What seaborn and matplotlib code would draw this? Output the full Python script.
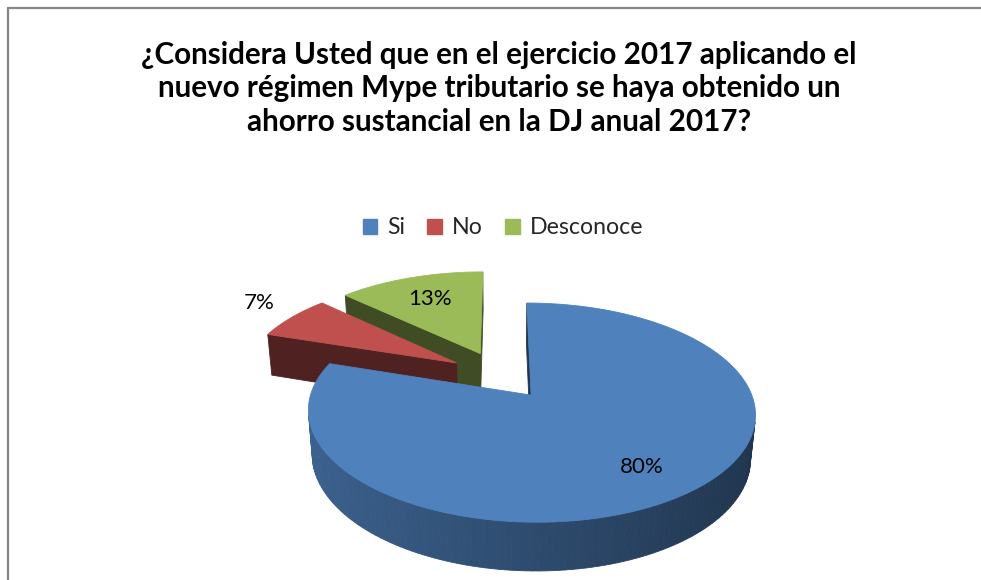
import numpy as np
import matplotlib
matplotlib.use("Agg")
import matplotlib.pyplot as plt
import seaborn as sns
from matplotlib.patches import Polygon, Patch
from matplotlib.lines import Line2D

# ---- data ----
categories = ["Si", "No", "Desconoce"]
values = [80, 7, 13]
pct_labels = ["80%", "7%", "13%"]
title = ("¿Considera Usted que en el ejercicio 2017 aplicando el\n"
         "nuevo régimen Mype tributario se haya obtenido un\n"
         "ahorro sustancial en la DJ anual 2017?")

# ---- style ----
sns.set_theme(style="white")
plt.rcParams["font.family"] = ["Lato", "DejaVu Sans"]
colors = ["#4F81BD", "#C0504D", "#9BBB59"]

W, H = 981, 580
fig = plt.figure(figsize=(W / 100, H / 100), dpi=100)
ax = fig.add_axes([0, 0, 1, 1])
ax.set_xlim(0, W)
ax.set_ylim(H, 0)
ax.axis("off")

# 3D projection parameters (pixel space)
S = 214.0
phi = np.radians(28)
sphi, cphi = np.sin(phi), np.cos(phi)
Dcam = 5.7
U0, V0 = 500.0, 375.0
explode = 0.24
depth = 0.23
cam = np.array([0.0, -Dcam * cphi, Dcam * sphi])


def proj(X, Y, Z):
    X = np.asarray(X, float); Y = np.asarray(Y, float); Z = np.asarray(Z, float)
    zc = Dcam + Y * cphi - Z * sphi
    yc = Y * sphi + Z * cphi
    return U0 + S * X * Dcam / zc, V0 - S * yc * Dcam / zc


def shade(c, f):
    rgb = np.array(matplotlib.colors.to_rgb(c))
    return tuple(np.clip(rgb * f, 0, 1))


def face(pts3, col, z=1):
    pts3 = np.array(pts3)
    u, v = proj(pts3[:, 0], pts3[:, 1], pts3[:, 2])
    ax.add_patch(Polygon(np.column_stack([u, v]), closed=True, facecolor=col,
                         edgecolor=col, lw=0.6, zorder=z))


def visible(p, n):
    return np.dot(cam - p, n) > 0


total = float(sum(values))
cum = np.cumsum([0] + values)
slices = []
for i, val in enumerate(values):
    t1 = 90 - cum[i] / total * 360
    t2 = 90 - cum[i + 1] / total * 360
    mid = np.radians((t1 + t2) / 2)
    A = explode * np.array([np.cos(mid), np.sin(mid)])
    slices.append((i, np.radians(t2), np.radians(t1), mid, A))

# draw back-to-front
slices.sort(key=lambda s: -s[4][1])
label_r = {0: 0.75, 1: 1.22, 2: 0.7}
for (i, t2, t1, mid, A) in slices:
    base = colors[i]
    th = np.linspace(t2, t1, max(8, int(np.degrees(t1 - t2) / 1.5)))
    P = np.column_stack([A[0] + np.cos(th), A[1] + np.sin(th)])
    # radial faces
    for t, nrm in ((t1, np.array([-np.sin(t1), np.cos(t1), 0])),
                   (t2, np.array([np.sin(t2), -np.cos(t2), 0]))):
        E = A + np.array([np.cos(t), np.sin(t)])
        cen = np.array([(A[0] + E[0]) / 2, (A[1] + E[1]) / 2, -depth / 2])
        if visible(cen, nrm):
            face([[A[0], A[1], 0], [E[0], E[1], 0], [E[0], E[1], -depth],
                  [A[0], A[1], -depth]], shade(base, 0.41))
    # outer wall
    for k in range(len(th) - 1):
        tm = (th[k] + th[k + 1]) / 2
        pm = np.array([A[0] + np.cos(tm), A[1] + np.sin(tm), -depth / 2])
        if visible(pm, np.array([np.cos(tm), np.sin(tm), 0])):
            f = 0.58 - 0.18 * np.cos(tm)
            face([[P[k, 0], P[k, 1], 0], [P[k + 1, 0], P[k + 1, 1], 0],
                  [P[k + 1, 0], P[k + 1, 1], -depth], [P[k, 0], P[k, 1], -depth]],
                 shade(base, f))
    # top
    top = [[A[0], A[1], 0]] + [[p[0], p[1], 0] for p in P]
    face(top, base)

# percentage labels
for (i, t2, t1, mid, A) in slices:
    r = label_r[i]
    lx, ly = proj(A[0] + r * np.cos(mid), A[1] + r * np.sin(mid), 0)
    if i == 1:
        ly -= 5
    ax.text(lx, ly, pct_labels[i], ha="center", va="center", fontsize=16,
            color="black", zorder=10)

# title
ax.text(499, 88.5, title, ha="center", va="center", fontsize=21.3,
        fontweight="bold", linespacing=1.22, color="black")

# legend
handles = [Patch(facecolor=c, edgecolor=c) for c in colors]
fig.legend(handles, categories, loc="center", bbox_to_anchor=(503 / W, 1 - 228 / H),
           ncol=3, frameon=False, fontsize=16.7, handlelength=0.62, handleheight=0.62,
           handletextpad=0.45, columnspacing=0.95)

# chart border (left and top visible)
ax.add_line(Line2D([8, 8], [8, H + 5], color="#868686", lw=1.6))
ax.add_line(Line2D([8, W + 5], [8, 8], color="#868686", lw=1.6))

fig.savefig("out.png", dpi=100)
